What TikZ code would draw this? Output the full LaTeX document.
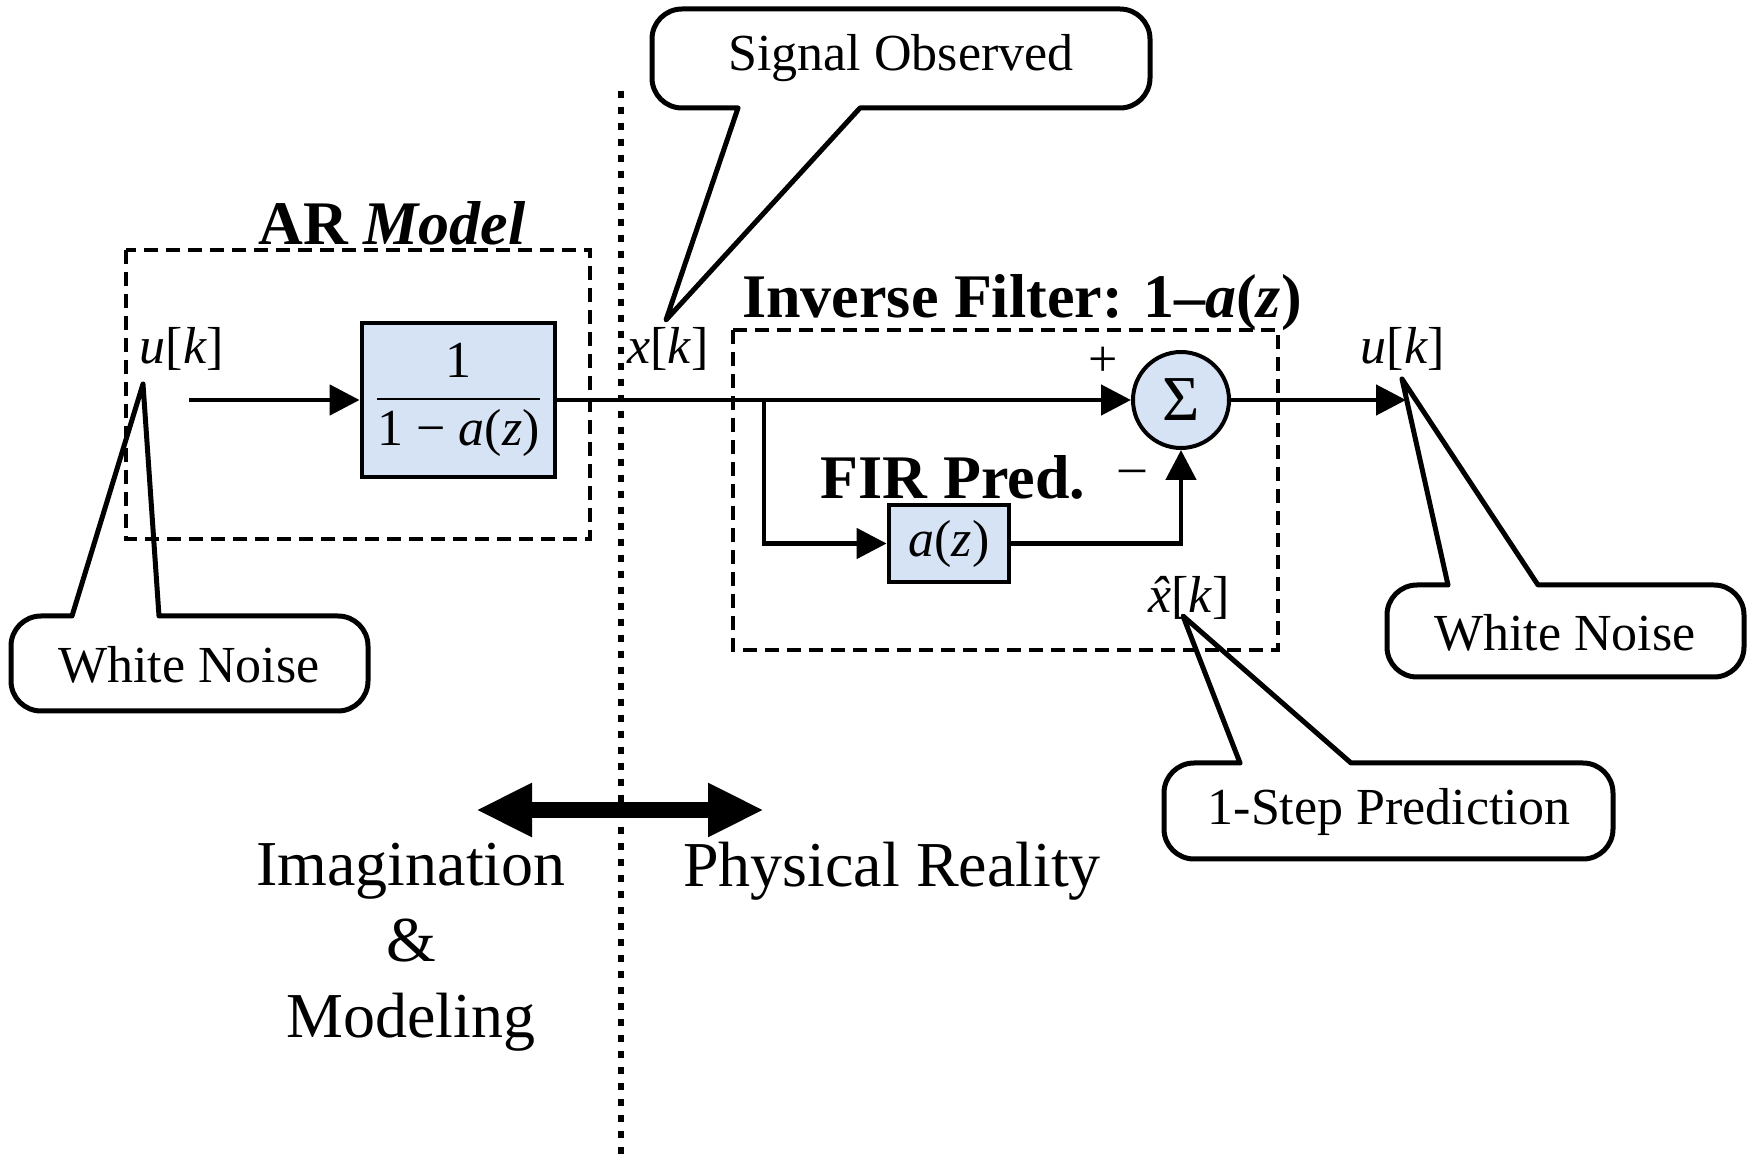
\documentclass[tikz,border=0pt]{standalone}
\usepackage{amsmath}
\usepackage{fontspec}
\setmainfont{Liberation Serif}
\usetikzlibrary{arrows.meta,shapes.geometric}
\definecolor{blockblue}{RGB}{214,227,245}
\newcommand{\sigk}[1]{\textit{#1}[\textit{k}]}
\newcommand{\hatx}{\ooalign{\textit{x}\cr\hidewidth\textit{\char"02C6}\hidewidth\cr}}

\begin{document}
\begin{tikzpicture}[x=0.5pt, y=-0.5pt,
	every node/.style={font=\fontsize{26}{30}\selectfont, inner sep=0pt},
	sig/.style={line width=2.4pt, -{Triangle[length=15pt,width=15pt]}},
	blockbox/.style={draw, line width=2.4pt, fill=blockblue},
	groupbox/.style={line width=1.7pt, dash pattern=on 7pt off 4pt},
	dotline/.style={line width=3.2pt, dash pattern=on 3.5pt off 4.5pt},
	callout/.style={line width=2.5pt, line join=round, line cap=round},
	ttl/.style={font=\fontsize{31}{36}\selectfont\bfseries},
	big/.style={font=\fontsize{32}{38}\selectfont, align=center}]
	\useasboundingbox (0,0) rectangle (1747,1154);
	\coordinate (divtop) at (621,91); \coordinate (divbot) at (621,1154);
	\draw[dotline] (divtop) -- (divbot);
	\draw[groupbox] (126,250) rectangle (590,539);
	\draw[groupbox] (733,330) rectangle (1278,650);
	\node[ttl] (artitle) at (392,223) {AR \textit{Model}};
	\node[ttl] (invtitle) at (1022,303) {Inverse Filter: 1–\textit{a}(\textit{z})};
	\node[ttl] (firtitle) at (953,477) {FIR Pred.};
	\node[blockbox, minimum width=96.5pt, minimum height=77pt] (ar) at (458.5,400) {$\dfrac{\text{1}}{\text{1 − \textit{a}(\textit{z})}}$};
	\node[blockbox, minimum width=60pt, minimum height=38.5pt] (fir) at (949,543.5) {\textit{a}(\textit{z})};
	\node[draw, circle, line width=2pt, fill=blockblue, minimum size=48pt] (sum) at (1181,400) {\raisebox{-2pt}{\fontsize{32}{32}\selectfont Σ}};
	\coordinate (uin) at (189,400); \coordinate (tap) at (764,400); \coordinate (uout) at (1406,400);
	\draw[sig] (uin) -- (ar);
	\draw[sig] (ar) -- (sum);
	\draw[sig] (tap) |- (fir);
	\draw[sig] (fir) -| (sum);
	\draw[sig] (sum) -- (uout);
	\node (ul) at (182,349) {\sigk{u}};
	\node (xl) at (668,349) {\sigk{x}};
	\node (ur) at (1403,349) {\sigk{u}};
	\node (xh) at (1189,598) {\hatx[\textit{k}]};
	\node (plus) at (1103,362) {+};
	\node (minus) at (1132,477) {–};
	\coordinate (imgend) at (476,810); \coordinate (physend) at (764,810);
	\draw[line width=8pt, {Triangle[length=28pt,width=25pt]}-{Triangle[length=28pt,width=25pt]}] (imgend) -- (physend);
	\node[big] (imag) at (411,947) {Imagination\\\&\\Modeling};
	\node[big] (phys) at (892,871) {Physical Reality};
	\coordinate (sotip) at (666,320); \coordinate (wnltip) at (143,384);
	\coordinate (wnrtip) at (1402,379); \coordinate (predtip) at (1183,616);
	\node (sigobs) at (901,58) {Signal Observed};
	\draw[callout] (738,108) -- (sotip) -- (860,108) [rounded corners=15pt] -- (1150,108) -- (1150,9) -- (652,9) -- (652,108) [sharp corners] -- (738,108);
	\node (wnl) at (189,665) {White Noise};
	\draw[callout] (72,616) -- (wnltip) -- (159,616) [rounded corners=15pt] -- (368,616) -- (368,711) -- (11,711) -- (11,616) [sharp corners] -- (72,616);
	\node (wnr) at (1565,633) {White Noise};
	\draw[callout] (1448,585) -- (wnrtip) -- (1538,585) [rounded corners=15pt] -- (1744,585) -- (1744,677) -- (1387,677) -- (1387,585) [sharp corners] -- (1448,585);
	\node (pred) at (1389,812) {1-Step Prediction};
	\draw[callout] (1240,763) -- (predtip) -- (1351,763) [rounded corners=15pt] -- (1613,763) -- (1613,859) -- (1164,859) -- (1164,763) [sharp corners] -- (1240,763);
\end{tikzpicture}
\end{document}
